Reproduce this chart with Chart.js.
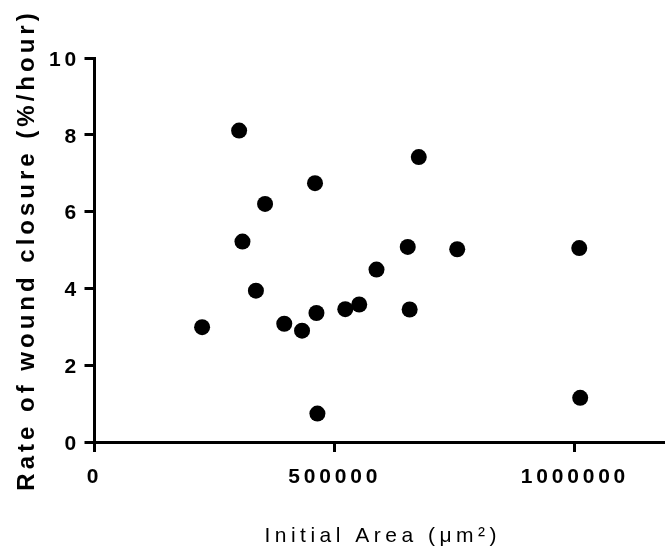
<!DOCTYPE html>
<html>
<head>
<meta charset="utf-8">
<script src="https://cdn.jsdelivr.net/npm/chart.js@4/dist/chart.umd.min.js"></script>
<style>
  html, body { margin: 0; padding: 0; background: #fff; }
  #wrap { width: 665px; height: 550px; }
</style>
</head>
<body>
<div id="wrap"><canvas id="myChart" width="665" height="550"></canvas></div>
<script>
// values
const initialArea = [224000, 301000, 308000, 336000, 355000, 395000, 432000, 459000, 462000, 464000,
  522000, 551000, 587000, 652000, 656000, 675000, 755000, 1009000, 1011000];
const closureRate = [2.99, 8.11, 5.22, 3.94, 6.20, 3.08, 2.90, 6.74, 3.36, 0.74,
  3.46, 3.58, 4.49, 5.08, 3.45, 7.42, 5.02, 5.05, 1.15];
const xTicks = [0, 500000, 1000000];
const yTicks = [0, 2, 4, 6, 8, 10];
const xTitle = 'Initial Area (μm²)';
const yTitle = 'Rate of wound closure (%/hour)';

const FONT = '"Liberation Sans", Arial, sans-serif';

// Chart.js squeezes long axis titles, so the titles are drawn here with letter spacing
const spacedText = {
  id: 'spacedText',
  beforeDraw(chart) {
    chart.ctx.letterSpacing = '3.8px';
  },
  afterDraw(chart) {
    const { ctx, chartArea } = chart;
    ctx.save();
    ctx.fillStyle = '#000';
    ctx.textAlign = 'center';
    ctx.textBaseline = 'alphabetic';
    ctx.letterSpacing = '4.5px';
    ctx.font = `21px ${FONT}`;
    ctx.fillText(xTitle, (chartArea.left + chart.width) / 2 + 3, 542);
    ctx.translate(33.5, (chartArea.top + chartArea.bottom) / 2);
    ctx.rotate(-Math.PI / 2);
    ctx.letterSpacing = '4px';
    ctx.font = `bold 24px ${FONT}`;
    ctx.fillText(yTitle, 0, 0);
    ctx.restore();
    ctx.letterSpacing = '0px';
  }
};

const tickFont = { family: FONT, size: 21, weight: 'bold' };

const axisBase = {
  type: 'linear',
  grid: { drawOnChartArea: false, drawTicks: true, tickLength: 10, lineWidth: 3, tickWidth: 3, tickColor: '#000' },
  border: { display: true, width: 3, color: '#000' }
};

const ctx = document.getElementById('myChart').getContext('2d');
new Chart(ctx, {
  type: 'scatter',
  data: {
    datasets: [{
      data: initialArea.map((x, i) => ({ x, y: closureRate[i] })),
      backgroundColor: '#000',
      borderWidth: 0,
      pointRadius: 8,
      pointHoverRadius: 8
    }]
  },
  options: {
    responsive: false,
    animation: false,
    devicePixelRatio: 1,
    layout: { autoPadding: false, padding: { top: 58, right: 0, bottom: 0, left: 0 } },
    plugins: { legend: { display: false }, tooltip: { enabled: false } },
    scales: {
      x: {
        ...axisBase,
        min: 0,
        max: 1187500, // the axis runs off the right edge of the picture
        afterBuildTicks: (s) => { s.ticks = xTicks.map(v => ({ value: v })); },
        afterFit: (s) => { s.height = 108; },
        ticks: { color: '#000', font: tickFont, padding: 13, maxRotation: 0, autoSkip: false, callback: v => String(v) }
      },
      y: {
        ...axisBase,
        min: 0,
        max: 10,
        afterBuildTicks: (s) => { s.ticks = yTicks.map(v => ({ value: v })); },
        afterFit: (s) => { s.width = 94.5; },
        ticks: { color: '#000', font: tickFont, padding: 4.5, labelOffset: 2, autoSkip: false, callback: v => String(v) }
      }
    }
  },
  plugins: [spacedText]
});
</script>
</body>
</html>
